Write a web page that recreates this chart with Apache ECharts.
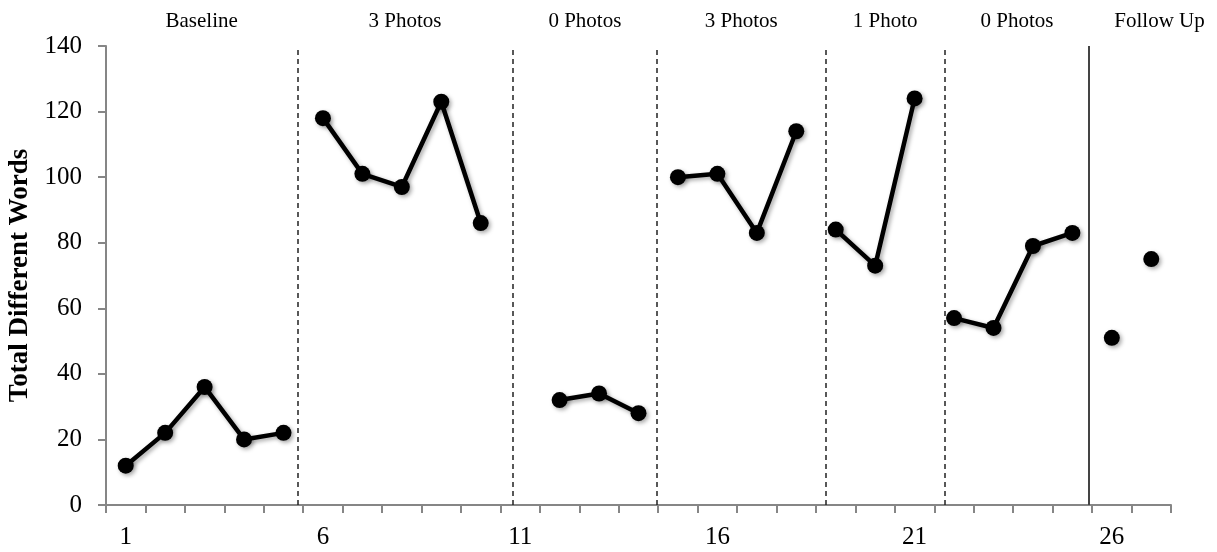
<!DOCTYPE html>
<html>
<head>
<meta charset="utf-8">
<script src="https://cdn.jsdelivr.net/npm/echarts@6/dist/echarts.min.js"></script>
<style>
html,body{margin:0;padding:0;background:#fff;}
#main{width:1217px;height:552px;}
</style>
</head>
<body>
<div id="main"></div>
<script>
// ---- data ----
const categories = ['1','2','3','4','5','6','7','8','9','10','11','12','13','14','15','16','17','18','19','20','21','22','23','24','25','26','27'];
const baseline   = [12, 22, 36, 20, 22];      // sessions 1-5
const photos3a   = [118, 101, 97, 123, 86];   // sessions 6-10
const photos0a   = [32, 34, 28];              // sessions 12-14
const photos3b   = [100, 101, 83, 114];       // sessions 15-18
const photo1     = [84, 73, 124];             // sessions 19-21
const photos0b   = [57, 54, 79, 83];          // sessions 22-25
const followUp   = [51, 75];                  // sessions 26-27
const phaseStart = [1, 6, 12, 15, 19, 22, 26];
const phaseNames = ['Baseline', '3 Photos', '0 Photos', '3 Photos', '1 Photo', '0 Photos', 'Follow Up'];
const phaseLines = [5.35, 10.81, 14.47, 18.74, 21.77, 25.42];
const phaseBounds = [0.5, 5.35, 10.81, 14.47, 18.74, 21.77, 25.42, 29.0];
const yTicks = [0, 20, 40, 60, 80, 100, 120, 140];

const SERIF = "'Liberation Serif', 'Times New Roman', serif";
const phaseValues = [baseline, photos3a, photos0a, photos3b, photo1, photos0b, followUp];

function pad(values, start) {
  const arr = categories.map(() => null);
  values.forEach((v, i) => { arr[start - 1 + i] = v; });
  return arr;
}

const shadow = { shadowBlur: 4, shadowColor: 'rgba(0,0,0,0.35)', shadowOffsetX: 2, shadowOffsetY: 2 };

const series = phaseValues.map((vals, i) => {
  const isFollow = i === phaseValues.length - 1;
  return {
    type: isFollow ? 'scatter' : 'line',
    xAxisIndex: 0, yAxisIndex: 0,
    data: pad(vals, phaseStart[i]),
    symbol: 'circle',
    symbolSize: 16,
    showSymbol: true,
    connectNulls: false,
    silent: true,
    z: 5,
    itemStyle: Object.assign({ color: '#000', opacity: 1 }, shadow),
    lineStyle: Object.assign({ color: '#000', width: 4.5 }, shadow),
    emphasis: { disabled: true }
  };
});

series.push({
  type: 'line',
  xAxisIndex: 1, yAxisIndex: 0,
  data: [],
  silent: true,
  markLine: {
    silent: true,
    symbol: 'none',
    label: { show: false },
    animation: false,
    data: phaseLines.map((v, i) => ({
      xAxis: v,
      lineStyle: i === phaseLines.length - 1
        ? { type: 'solid', color: '#444', width: 2 }
        : { type: [5, 4], color: '#222', width: 1.5 }
    }))
  }
});

const option = {
  animation: false,
  backgroundColor: '#fff',
  grid: { left: 106, right: 46, top: 46, bottom: 47, containLabel: false, outerBoundsMode: 'none' },
  xAxis: [{
    type: 'category',
    data: categories,
    boundaryGap: true,
    axisLine: { lineStyle: { color: '#868686', width: 2 } },
    axisTick: { show: true, interval: 0, length: 8, lineStyle: { color: '#868686', width: 2 } },
    axisLabel: { interval: 4, color: '#000', fontFamily: SERIF, fontSize: 25, margin: 20 },
    splitLine: { show: false }
  }, {
    type: 'value',
    min: 0.5, max: 27.5,
    show: false
  }],
  yAxis: {
    type: 'value',
    min: yTicks[0], max: yTicks[yTicks.length - 1], interval: 20,
    name: 'Total Different Words',
    nameLocation: 'middle',
    nameRotate: 90,
    nameGap: 67,
    nameTextStyle: { color: '#000', fontFamily: SERIF, fontSize: 27, fontWeight: 'bold' },
    axisLine: { show: true, lineStyle: { color: '#868686', width: 2 } },
    axisTick: { show: true, length: 8, lineStyle: { color: '#868686', width: 2 } },
    axisLabel: { color: '#000', fontFamily: SERIF, fontSize: 25, margin: 24 },
    splitLine: { show: false }
  },
  series: series
};

const chart = echarts.init(document.getElementById('main'), null, { renderer: 'canvas' });
chart.setOption(option);

const graphics = phaseNames.map((name, i) => {
  const mid = (phaseBounds[i] + phaseBounds[i + 1]) / 2;
  const px = chart.convertToPixel({ xAxisIndex: 1 }, mid);
  return {
    type: 'text',
    x: px, y: 21,
    style: {
      text: name,
      fill: '#000',
      font: '21px ' + SERIF,
      align: 'center',
      verticalAlign: 'middle'
    },
    silent: true
  };
});
chart.setOption({ graphic: graphics });
</script>
</body>
</html>
